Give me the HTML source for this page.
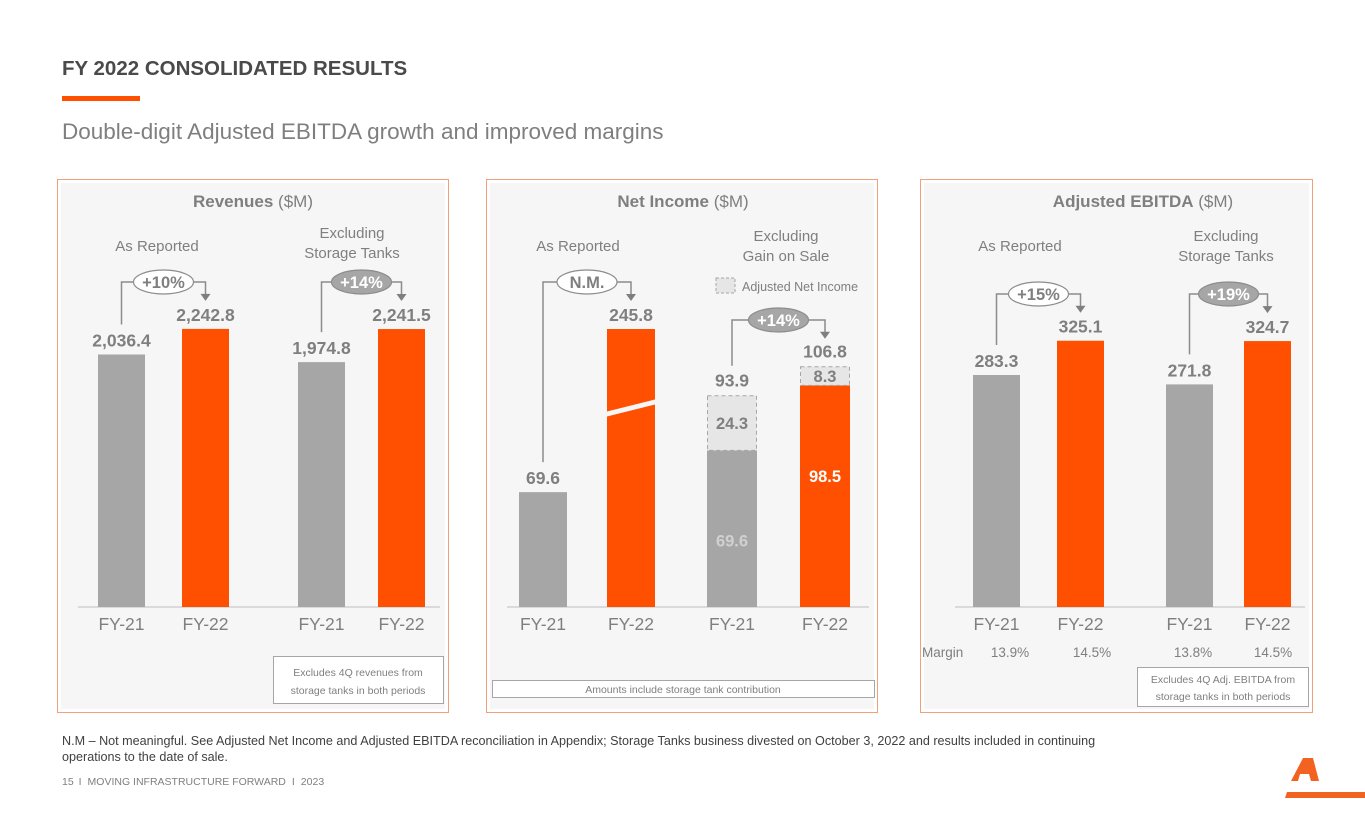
<!DOCTYPE html>
<html><head><meta charset="utf-8">
<style>
html,body{margin:0;padding:0;background:#fff;}
svg{display:block;font-family:"Liberation Sans",sans-serif;}
</style></head>
<body>
<svg id="c" width="1365" height="829" viewBox="0 0 1365 829">
<text x="62" y="75" font-size="20.5" font-weight="bold" fill="#4a4a4a">FY 2022 CONSOLIDATED RESULTS</text>
<rect x="62" y="96" width="78" height="5" fill="#fe5000"/>
<text x="62" y="139" font-size="22.5" fill="#7f7f7f">Double-digit Adjusted EBITDA growth and improved margins</text>

<g>
<rect x="57.5" y="179.5" width="391" height="533" fill="#fff" stroke="#f3a07a"/>
<rect x="61" y="183" width="384" height="526" fill="#f5f6f5"/>
<text x="253" y="207" font-size="17" fill="#7f7f7f" text-anchor="middle"><tspan font-weight="bold">Revenues</tspan> ($M)</text>
<text x="157" y="251" font-size="15" fill="#7f7f7f" text-anchor="middle">As Reported</text>
<text x="352" y="238" font-size="15" fill="#7f7f7f" text-anchor="middle">Excluding</text>
<text x="352" y="258" font-size="15" fill="#7f7f7f" text-anchor="middle">Storage Tanks</text>
<line x1="78" y1="607" x2="440" y2="607" stroke="#bfbfbf"/>
<rect x="273.5" y="656.5" width="170" height="47" fill="#fff" stroke="#a6a6a6"/>
<text x="358" y="676" font-size="10.5" fill="#7f7f7f" text-anchor="middle">Excludes 4Q revenues from</text>
<text x="358" y="694" font-size="10.5" fill="#7f7f7f" text-anchor="middle">storage tanks in both periods</text>
</g>

<g>
<rect x="486.5" y="179.5" width="391" height="533" fill="#fff" stroke="#f3a07a"/>
<rect x="490" y="183" width="384" height="526" fill="#f5f6f5"/>
<text x="683" y="207" font-size="17" fill="#7f7f7f" text-anchor="middle"><tspan font-weight="bold">Net Income</tspan> ($M)</text>
<text x="578" y="251" font-size="15" fill="#7f7f7f" text-anchor="middle">As Reported</text>
<text x="786" y="241" font-size="15" fill="#7f7f7f" text-anchor="middle">Excluding</text>
<text x="786" y="261" font-size="15" fill="#7f7f7f" text-anchor="middle">Gain on Sale</text>
<rect x="716" y="278" width="19" height="15" fill="#e6e6e6" stroke="#a6a6a6" stroke-dasharray="3,2"/>
<text x="742" y="291" font-size="12.5" fill="#7f7f7f">Adjusted Net Income</text>
<line x1="507" y1="607" x2="869" y2="607" stroke="#bfbfbf"/>
<rect x="492.5" y="680.5" width="382" height="17" fill="#fff" stroke="#a6a6a6"/>
<text x="683" y="693" font-size="10.5" fill="#7f7f7f" text-anchor="middle">Amounts include storage tank contribution</text>
</g>

<g>
<rect x="920.5" y="179.5" width="392" height="533" fill="#fff" stroke="#f3a07a"/>
<rect x="924" y="183" width="385" height="526" fill="#f5f6f5"/>
<text x="1143" y="207" font-size="17" fill="#7f7f7f" text-anchor="middle"><tspan font-weight="bold">Adjusted EBITDA</tspan> ($M)</text>
<text x="1020" y="251" font-size="15" fill="#7f7f7f" text-anchor="middle">As Reported</text>
<text x="1226" y="241" font-size="15" fill="#7f7f7f" text-anchor="middle">Excluding</text>
<text x="1226" y="261" font-size="15" fill="#7f7f7f" text-anchor="middle">Storage Tanks</text>
<line x1="955" y1="607" x2="1305" y2="607" stroke="#bfbfbf"/>
<text x="922" y="657" font-size="13.5" fill="#7f7f7f">Margin</text>
<rect x="1137.5" y="667.5" width="171" height="39" fill="#fff" stroke="#a6a6a6"/>
<text x="1223" y="683" font-size="10.5" fill="#7f7f7f" text-anchor="middle">Excludes 4Q Adj. EBITDA from</text>
<text x="1223" y="700" font-size="10.5" fill="#7f7f7f" text-anchor="middle">storage tanks in both periods</text>
</g>

<text x="62" y="745" font-size="12.6" fill="#404040">N.M – Not meaningful. See Adjusted Net Income and Adjusted EBITDA reconciliation in Appendix; Storage Tanks business divested on October 3, 2022 and results included in continuing</text>
<text x="62" y="761" font-size="12.6" fill="#404040">operations to the date of sale.</text>
<text x="62" y="785" font-size="10.5" fill="#7f7f7f">15 <tspan dx="2">I</tspan><tspan dx="6">MOVING INFRASTRUCTURE FORWARD</tspan><tspan dx="6">I</tspan><tspan dx="6">2023</tspan></text>
<g>
<polygon points="1303,758 1313,758 1319,781 1311,781 1309,774 1300,774 1298,781 1291,781" fill="#f26322"/>
<polygon points="1287,792 1365,792 1365,798 1285,798" fill="#f26322"/>
</g>
<g id="marks"></g>
</svg>
<script>
const periodLabels=['FY-21','FY-22'];
const revReported=[2036.4,2242.8];
const revExTanks=[1974.8,2241.5];
const niReported=[69.6,245.8];
const niExBase=[69.6,98.5];
const niExAdj=[24.3,8.3];
const ebitdaReported=[283.3,325.1];
const ebitdaExTanks=[271.8,324.7];
const marginLabels=['13.9%','14.5%','13.8%','14.5%'];
const growthLabels=['+10%','+14%','N.M.','+14%','+15%','+19%'];

const NS='http://www.w3.org/2000/svg';
const G=document.getElementById('marks');
const BASE=607, GRAY='#a6a6a6', ORANGE='#fe5000', TXT='#7f7f7f';
function mk(tag,attrs,parent){const e=document.createElementNS(NS,tag);for(const k in attrs)e.setAttribute(k,attrs[k]);(parent||G).appendChild(e);return e;}
function txt(x,y,s,size,fill,bold){const t=mk('text',{x:x,y:y,'font-size':size,fill:fill,'text-anchor':'middle'});if(bold)t.setAttribute('font-weight','bold');t.textContent=s;return t;}
function fmt(v){return v>=1000?v.toLocaleString('en-US',{minimumFractionDigits:1,maximumFractionDigits:1}):v.toFixed(1);}
function yOf(v,scale,cap){let h=v*scale;if(cap&&h>cap)h=cap;return BASE-h;}

function connector(x1,top1,x2,top2,cy,label,filled){
  const p=mk('path',{d:`M${x1} ${top1} V${cy} H${x2} V${top2-6}`,fill:'none',stroke:'#8c8c8c','stroke-width':1.5});
  
  
  mk('polygon',{points:`${x2-5},${top2-7} ${x2+5},${top2-7} ${x2},${top2}`,fill:'#7f7f7f'});
  const cx=(x1+x2)/2;
  const o=mk('ellipse',{cx:cx,cy:cy,rx:30,ry:12,fill:filled?'#a6a6a6':'#fff',stroke:'#8c8c8c','stroke-width':1.2});
  
  
  const t=txt(cx,cy+6,label,16.5,filled?'#fff':'#7f7f7f',true);
  
  
}

function pair(xs,w,vals,scale,cy,gLabel,filled,cap){
  const tops=[];
  vals.forEach((v,i)=>{
    const top=yOf(v,scale,cap);tops.push(top);
    const r=mk('rect',{x:xs[i],y:top,width:w,height:BASE-top,fill:i?ORANGE:GRAY});
    
    
    const t=txt(xs[i]+w/2,top-8,fmt(v),17.5,TXT,true);
    
    
    const a=txt(xs[i]+w/2,630,periodLabels[i],17.5,TXT,false);
    
    
  });
  if(gLabel) connector(xs[0]+w/2,tops[0]-30,xs[1]+w/2,tops[1]-28,cy,gLabel,filled);
  return tops;
}

pair([98,182],47,revReported,0.124,282,growthLabels[0],false);
pair([298,378],47,revExTanks,0.124,282,growthLabels[1],true);
const niTops=pair([519,607],48,niReported,1.65,282,growthLabels[2],false,278);
const br=mk('polygon',{points:`605,${niTops[1]+83} 657,${niTops[1]+70} 657,${niTops[1]+75} 605,${niTops[1]+88}`,fill:'#f5f6f5'});



const sx=[707,800], sw=50, s2=2.25, stops=[];
niExBase.forEach((v,i)=>{
  const top=yOf(v,s2);
  const r=mk('rect',{x:sx[i],y:top,width:sw,height:BASE-top,fill:i?ORANGE:GRAY});
  
  
  const t=txt(sx[i]+sw/2,(top+BASE)/2-12+(i?-2:30),v.toFixed(1),16.5,i?'#fff':'#d0d0d0',true);
  
  
  const top2=yOf(v+niExAdj[i],s2);stops.push(top2);
  const a=mk('rect',{x:sx[i]+0.5,y:top2,width:sw-1,height:top-top2,fill:'#e6e6e6',stroke:'#a6a6a6','stroke-dasharray':'4,3'});
  
  
  const at=txt(sx[i]+sw/2,(top+top2)/2+6,niExAdj[i].toFixed(1),16.5,TXT,true);
  
  
  const tt=txt(sx[i]+sw/2,top2-9,(v+niExAdj[i]).toFixed(1),17.5,TXT,true);
  
  
  const x=txt(sx[i]+sw/2,630,periodLabels[i],17.5,TXT,false);
  
  
});
connector(sx[0]+sw/2,stops[0]-30,sx[1]+sw/2,stops[1]-28,320,growthLabels[3],true);

pair([973,1057],47,ebitdaReported,0.819,294,growthLabels[4],false);
pair([1166,1244],47,ebitdaExTanks,0.819,294,growthLabels[5],true);

const mx=[1010,1092,1193,1273];
marginLabels.forEach((m,i)=>{
  const t=txt(mx[i],657,m,13.5,TXT,false);
  
  
});
</script>
</body></html>
